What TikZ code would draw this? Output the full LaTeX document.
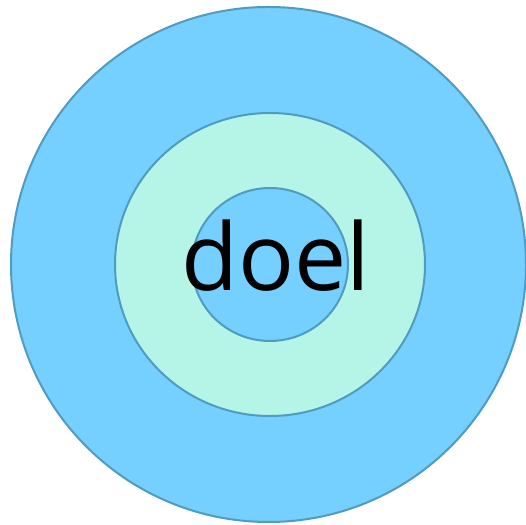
\documentclass[tikz,border=0pt]{standalone}
\usepackage{fontspec}
\setmainfont{Open Sans}
\definecolor{outerblue}{RGB}{117,207,255}
\definecolor{mint}{RGB}{181,245,232}
\definecolor{rim}{RGB}{80,155,192}
\begin{document}
\begin{tikzpicture}[x=1pt,y=1pt,
  ring/.style={draw=rim,line width=2pt}]
\useasboundingbox (0,0) rectangle (526,524);
\draw[ring,fill=outerblue] (268.5,259.5) circle[radius=257.5];
\draw[ring,fill=mint] (270,259.5) ellipse[x radius=155,y radius=151.5];
\draw[ring,fill=outerblue] (270,259.5) ellipse[x radius=78,y radius=76.5];
\node[anchor=base,inner sep=0pt,font=\fontsize{93}{93}\selectfont] (doel) at (275.5,233) {doel};
\end{tikzpicture}
\end{document}
